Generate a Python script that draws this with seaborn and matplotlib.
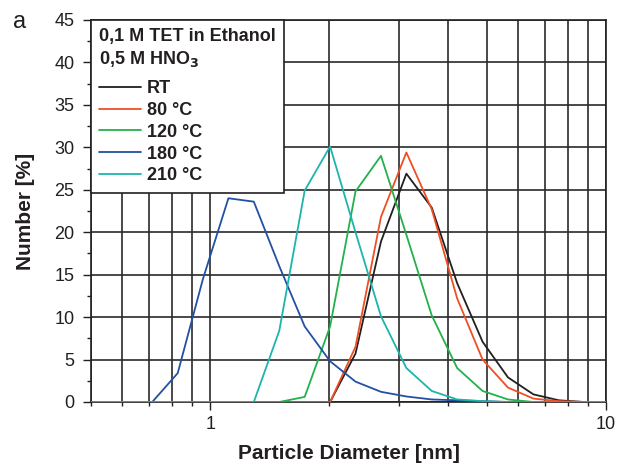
import matplotlib
matplotlib.use("Agg")
import matplotlib.pyplot as plt
import matplotlib.ticker as mticker
import numpy as np
import pandas as pd
import seaborn as sns

diam = [0.458, 0.531, 0.616, 0.714, 0.828, 0.959, 1.112, 1.289, 1.495, 1.733, 2.009,
        2.329, 2.701, 3.131, 3.629, 4.207, 4.877, 5.654, 6.555, 7.598, 8.810, 10.21]
rt   = [0, 0, 0, 0, 0, 0, 0, 0, 0, 0, 0, 5.7, 18.9, 26.9, 22.9, 14.0, 7.1, 2.9, 0.9, 0.2, 0, 0]
t80  = [0, 0, 0, 0, 0, 0, 0, 0, 0, 0, 0, 6.5, 21.8, 29.4, 22.7, 12.2, 5.0, 1.7, 0.4, 0.1, 0, 0]
t120 = [0, 0, 0, 0, 0, 0, 0, 0, 0, 0.6, 8.9, 24.8, 29.0, 19.7, 10.2, 4.0, 1.3, 0.3, 0, 0, 0, 0]
t180 = [0, 0, 0, 0, 3.4, 14.5, 24.0, 23.6, 16.0, 8.9, 4.8, 2.4, 1.2, 0.65, 0.3, 0.2, 0.1, 0, 0, 0, 0, 0]
t210 = [0, 0, 0, 0, 0, 0, 0, 0, 8.4, 24.9, 30.1, 20.0, 10.1, 4.0, 1.3, 0.3, 0.1, 0, 0, 0, 0, 0]

labels = ["RT", "80 °C", "120 °C", "180 °C", "210 °C"]
colors = ["#231f20", "#f04e23", "#22b14c", "#2251a3", "#1cb5ac"]
yticks = [0, 5, 10, 15, 20, 25, 30, 35, 40, 45]

series = [rt, t80, t120, t180, t210]
df = pd.concat([pd.DataFrame({"d": diam, "n": s, "T": lab}) for s, lab in zip(series, labels)],
               ignore_index=True)

sns.set_style("ticks")
plt.rcParams["font.family"] = ["Liberation Sans", "DejaVu Sans"]

fig = plt.figure(figsize=(6.18, 4.68), dpi=100)
ax = fig.add_axes([91/618, 1-402/468, (606-91)/618, (402-20)/468])

sns.lineplot(data=df, x="d", y="n", hue="T", palette=dict(zip(labels, colors)),
             hue_order=labels, ax=ax, linewidth=1.3, legend=True, zorder=3)

ax.set_xscale("log")
ax.set_xlim(0.5, 10)
ax.set_ylim(0, 45)
ax.set_yticks(yticks)
ax.yaxis.set_minor_locator(mticker.MultipleLocator(2.5))
ax.xaxis.set_major_locator(mticker.FixedLocator([1, 10]))
ax.xaxis.set_major_formatter(mticker.FixedFormatter(["1", "10"]))
ax.xaxis.set_minor_locator(mticker.LogLocator(base=10, subs=np.arange(2, 10)))
ax.xaxis.set_minor_formatter(mticker.NullFormatter())

ax.grid(True, which="both", axis="x", color="#2a2a2a", linewidth=1.2, zorder=1)
ax.grid(True, which="major", axis="y", color="#2a2a2a", linewidth=1.2, zorder=1)
ax.set_axisbelow(True)

ax.tick_params(axis="both", which="major", direction="out", length=6, width=1,
               color="#231f20", labelsize=13, labelcolor="#231f20")
ax.tick_params(axis="both", which="minor", direction="out", length=3, width=1,
               color="#231f20")
ax.tick_params(axis="y", which="major", pad=6)
ax.tick_params(axis="x", which="major", pad=4)
for sp in ax.spines.values():
    sp.set_color("#231f20")
    sp.set_linewidth(1.2)

ax.set_xlabel("Particle Diameter [nm]", fontsize=15, fontweight="bold", color="#231f20")
ax.set_ylabel("Number [%]", fontsize=15, fontweight="bold", color="#231f20")
ax.xaxis.set_label_coords(0.5, -0.111)
ax.yaxis.set_label_coords(-0.109, 0.5)

leg = ax.legend(title="0,1 M TET in Ethanol\n0,5 M HNO$_\\mathbf{3}$", loc="upper left",
                bbox_to_anchor=(0, 1), borderaxespad=0, frameon=True, fancybox=False,
                edgecolor="#231f20", framealpha=1, handlelength=2.3, handletextpad=0.35,
                labelspacing=0.27, borderpad=0.45, alignment="left",
                prop={"weight": "bold", "size": 13},
                title_fontproperties={"weight": "bold", "size": 13})
leg.get_frame().set_linewidth(1.2)
leg.set_zorder(5)
for t in leg.get_texts():
    t.set_color("#231f20")
leg.get_title().set_color("#231f20")
leg.get_title().set_linespacing(1.25)
leg._legend_box.sep = 8.0

fig.text(13/618, 1-22/468, "a", fontsize=17, color="#231f20", va="center", ha="left")

fig.savefig("out.png", dpi=100)
